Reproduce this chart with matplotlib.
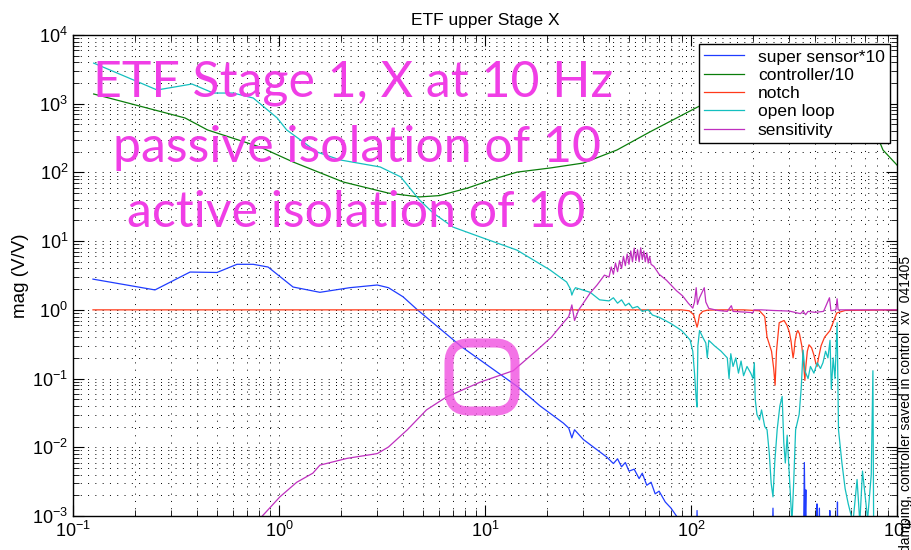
import numpy as np
import matplotlib.pyplot as plt
from matplotlib.patches import FancyBboxPatch
from matplotlib.transforms import IdentityTransform
from matplotlib.ticker import LogLocator, NullFormatter

plt.rcParams['font.family'] = ['Liberation Sans', 'DejaVu Sans']

# super sensor*10 (blue)
ss_f = [0.125, 0.25, 0.37, 0.5, 0.625, 0.75, 0.885, 1.17, 1.58, 2.2, 3.0, 3.4, 4.0, 4.7,
        7.7, 14.5, 18.5, 24, 25.5, 26.4, 27.2, 30, 34, 39, 42, 44, 46, 48, 50, 53, 56, 58,
        61, 64, 67, 70, 75, 80, 85, 88,
        105, 107, 109, 245, 250, 255, 350, 355, 358, 361, 364, 405, 409, 413, 420, 425,
        468, 472, 476, 510, 514, 518, 1000]
ss_mag = [2.8, 1.95, 3.55, 3.5, 4.6, 4.6, 4.2, 2.15, 1.8, 2.1, 2.3, 2.1, 1.55, 1.0,
          0.29, 0.075, 0.04, 0.0225, 0.019, 0.0137, 0.018, 0.013, 0.0098, 0.0072, 0.0058,
          0.0068, 0.0052, 0.006, 0.0045, 0.0048, 0.0035, 0.0042, 0.0028, 0.0031, 0.0021,
          0.0023, 0.0016, 0.0013, 0.001, 0.0008,
          1e-4, 0.0012, 1e-4, 1e-4, 0.0013, 1e-4, 1e-4, 0.006, 0.0008, 0.0024, 1e-4,
          1e-4, 0.0015, 1e-4, 0.0013, 1e-4, 1e-4, 0.0012, 1e-4, 1e-4, 0.0016, 1e-4, 1e-4]

# controller/10 (green)
ctl_f = [0.126, 0.35, 0.45, 0.81, 1.17, 2.05, 3.4, 4.8, 6.0, 8.2, 11, 14.3, 20.7, 30,
         43.7, 63, 101, 150, 220, 330, 500, 700, 855, 1000]
ctl_mag = [1385, 620, 415, 234, 142, 72.6, 50, 44, 46, 59, 80, 101, 116, 137,
           212, 387, 810, 1500, 2200, 2400, 1800, 900, 212, 128]

# notch (red)
notch_f = [0.125, 90, 98, 103, 106, 107, 108, 110, 114, 120, 140, 180, 215, 228, 234,
           246, 252, 256, 260, 268, 283, 292, 300, 306, 310, 313, 316, 320, 325, 330,
           336, 345, 352, 357, 361, 367, 374, 385, 395, 403, 409, 416, 428, 445, 473,
           510, 560, 1000]
notch_mag = [1, 1, 0.97, 0.85, 0.62, 0.56, 0.62, 0.85, 0.95, 0.99, 1, 1, 0.97, 0.8, 0.4,
             0.25, 0.14, 0.08, 0.25, 0.65, 0.7, 0.6, 0.48, 0.35, 0.25, 0.2, 0.24, 0.35,
             0.45, 0.5, 0.45, 0.3, 0.17, 0.094, 0.15, 0.25, 0.31, 0.28, 0.22, 0.17, 0.15,
             0.2, 0.3, 0.4, 0.5, 0.9, 0.98, 1]

# open loop (cyan)
ol_f = [0.126, 0.256, 0.378, 0.48, 0.6, 0.75, 0.98, 1.09, 1.53, 1.98, 3.1, 3.9, 4.8,
        5.6, 7.0, 9.8, 14.3, 20.7, 24.9, 26.0, 26.4, 26.9, 27.5, 32.4, 36, 40, 42, 44,
        46, 48, 50, 52, 55, 58, 62, 65, 70, 75, 80, 85, 90, 95, 99, 102, 104, 106, 107,
        108, 110, 114, 118, 120, 122, 130, 140, 150, 153, 156, 160, 165, 170, 175, 180,
        187, 195, 200, 203, 205, 209, 215, 220, 228, 234, 240, 245, 250, 255, 262, 270,
        277, 282, 287, 293, 300, 309, 315, 322, 335, 343, 350, 357, 370, 380, 395, 410,
        425, 437, 450, 462, 473, 480, 490, 500, 512, 520, 540, 560, 580, 611, 640, 660,
        680, 700, 720, 750, 764, 770, 800]
ol_mag = [3900, 1585, 1935, 1430, 1430, 1210, 620, 415, 198, 152, 120, 86, 40,
          25.7, 16, 11.1, 7.4, 3.8, 2.54, 2.0, 1.64, 1.9, 2.1, 1.8, 1.4, 1.35, 1.5, 1.25,
          1.4, 1.15, 1.25, 1.06, 1.12, 0.95, 1.0, 0.84, 0.78, 0.7, 0.63, 0.56, 0.5, 0.42,
          0.364, 0.25, 0.12, 0.05, 0.0385, 0.3, 0.5, 0.4, 0.33, 0.2, 0.36, 0.3, 0.25, 0.2,
          0.1, 0.23, 0.15, 0.2, 0.12, 0.18, 0.11, 0.15, 0.12, 0.1, 0.17, 0.05, 0.03, 0.025,
          0.035, 0.02, 0.018, 0.008, 0.003, 0.0019, 0.006, 0.018, 0.04, 0.055, 0.012,
          0.0059, 0.015, 0.004, 0.0008, 0.003, 0.018, 0.03, 0.075, 0.26, 0.13, 0.1, 0.15,
          0.12, 0.17, 0.14, 0.17, 0.25, 0.2, 0.36, 0.07, 0.2, 0.1, 0.65, 0.018, 0.006,
          0.0025, 0.0015, 0.0008, 0.0034, 0.0008, 0.0045, 0.002, 0.0009, 0.004, 0.13,
          0.0008, 0.0005]

# sensitivity (magenta)
sens_f = [0.83, 1.01, 1.22, 1.46, 1.58, 2.14, 3.0, 3.4, 4.2, 5.2, 6.5, 9.5, 13.7, 17.9,
          21, 24, 25.5, 26.4, 27.2, 28.5, 30, 32.4, 35, 38, 40, 41, 42, 43, 44, 45, 46,
          47, 48, 49, 50, 51, 52, 53, 54, 55, 56, 57, 58, 59, 60, 61, 62, 63, 64, 66, 70,
          76, 85, 91, 97, 102, 104, 106, 107.5, 110, 116, 118, 122, 135, 150, 157, 160,
          180, 200, 202, 220, 250, 300, 340, 350, 360, 370, 400, 440, 470, 478, 505, 512,
          518, 600, 800, 1000]
sens_mag = [0.001, 0.0019, 0.0031, 0.0042, 0.0055, 0.0069, 0.0081, 0.0101, 0.018, 0.035,
            0.054, 0.089, 0.13, 0.26, 0.4, 0.65, 0.8, 1.18, 0.7, 1.0, 1.25, 1.76, 2.3,
            3.2, 3.0, 4.2, 3.3, 4.8, 3.6, 5.2, 4.0, 6.0, 4.4, 6.5, 4.6, 7.2, 5.0, 7.9, 5.2,
            7.5, 5.0, 8.0, 5.4, 7.2, 5.0, 6.8, 4.8, 6.0, 4.6, 4.3, 3.3, 2.7, 1.9, 1.6,
            1.25, 1.06, 1.3, 2.1, 1.2, 1.5, 2.1, 1.3, 1.05, 0.98, 0.95, 1.15, 0.95, 0.93,
            0.91, 1.0, 1.0, 0.98, 0.96, 0.88, 0.96, 0.85, 0.95, 0.92, 0.95, 1.5, 0.97, 1.0,
            1.45, 1.0, 1.0, 1.0, 1.0]

fig = plt.figure(figsize=(9.11, 5.5), dpi=100)
ax = fig.add_axes([73 / 911, 34 / 550, 824 / 911, 481 / 550])

ax.loglog(ss_f, ss_mag, color='#1f3cff', lw=0.9, label='super sensor*10')
ax.loglog(ctl_f, ctl_mag, color='#0a7d0a', lw=0.9, label='controller/10')
ax.loglog(notch_f, notch_mag, color='#ff3a1a', lw=0.9, label='notch')
ax.loglog(ol_f, ol_mag, color='#14bfbf', lw=0.9, label='open loop')
ax.loglog(sens_f, sens_mag, color='#bf2fbf', lw=0.9, label='sensitivity')

ax.set_xlim(0.1, 1000)
ax.set_ylim(1e-3, 1e4)
ax.xaxis.set_minor_locator(LogLocator(base=10, subs=np.arange(2, 10), numticks=100))
ax.yaxis.set_minor_locator(LogLocator(base=10, subs=np.arange(2, 10), numticks=100))
ax.yaxis.set_major_locator(LogLocator(base=10, numticks=20))
ax.xaxis.set_minor_formatter(NullFormatter())
ax.yaxis.set_minor_formatter(NullFormatter())
ax.grid(True, which='both', ls=(0, (1, 6.5)), lw=0.7, color='k')
ax.tick_params(which='both', direction='in', top=True, right=True, labelsize=13)
ax.tick_params(which='major', length=8)
ax.tick_params(which='minor', length=4)
for s in ax.spines.values():
    s.set_linewidth(1.0)

ax.set_title('ETF upper Stage X', fontsize=12.5, pad=7)
ax.set_ylabel('mag (V/V)', fontsize=13.5, labelpad=2)

leg = ax.legend(loc='upper right', bbox_to_anchor=(0.9915, 0.981), fontsize=12.5,
                fancybox=False, edgecolor='k', framealpha=1, borderaxespad=0,
                handlelength=2.3, handletextpad=0.8, labelspacing=0.18, borderpad=0.3)
leg.get_frame().set_linewidth(1.0)

# overlay annotation
pink = '#f03ee6'
fig.text(93 / 911, 1 - 97 / 550, 'ETF Stage 1, X at 10 Hz', fontsize=36, family='Lato',
         color=pink, ha='left', va='baseline')
fig.text(113 / 911, 1 - 162 / 550, 'passive isolation of 10', fontsize=36, family='Lato',
         color=pink, ha='left', va='baseline')
fig.text(127 / 911, 1 - 227 / 550, 'active isolation of 10', fontsize=36, family='Lato',
         color=pink, ha='left', va='baseline')

ring = FancyBboxPatch((449, 550 - 377 - 34), 66, 68,
                      boxstyle='round,pad=0,rounding_size=20',
                      transform=IdentityTransform(), fill=False,
                      ec='#f050e0', lw=6.5, alpha=0.8, zorder=10)
fig.add_artist(ring)

fig.text(906 / 911, -0.004, 'damping, controller saved in control  xv  041405',
         rotation=90, fontsize=10, ha='center', va='bottom')

fig.savefig('out.png', dpi=100)
